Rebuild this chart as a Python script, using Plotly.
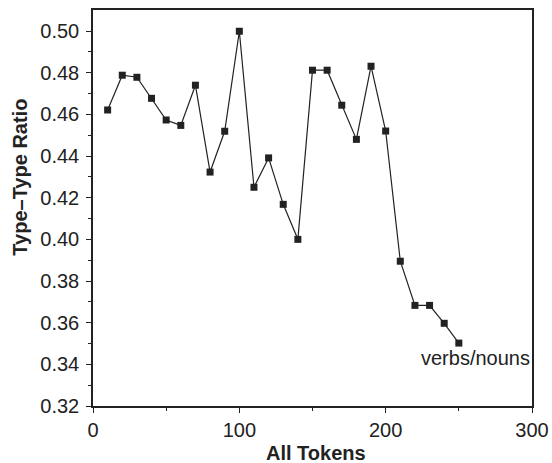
import plotly.graph_objects as go

tokens = [10, 20, 30, 40, 50, 60, 70, 80, 90, 100, 110, 120, 130, 140, 150,
          160, 170, 180, 190, 200, 210, 220, 230, 240, 250]
ratio = [0.4621, 0.4788, 0.4778, 0.4677, 0.4573, 0.4547, 0.4740, 0.4323, 0.4519,
         0.4999, 0.4250, 0.4391, 0.4168, 0.4000, 0.4812, 0.4812, 0.4644, 0.4480,
         0.4831, 0.4520, 0.3895, 0.3683, 0.3683, 0.3597, 0.3502]
series_label = "verbs/nouns"
x_title = "All Tokens"
y_title = "Type–Type Ratio"
x_ticks = [0, 100, 200, 300]
x_minor = [50, 150, 250]
y_ticks = [0.32, 0.34, 0.36, 0.38, 0.40, 0.42, 0.44, 0.46, 0.48, 0.50]
y_minor = [0.33, 0.35, 0.37, 0.39, 0.41, 0.43, 0.45, 0.47, 0.49]

font = "Liberation Sans, Arial, Helvetica, sans-serif"
ink = "#222222"
fs = 20

fig = go.Figure()
fig.add_trace(go.Scatter(
    x=tokens, y=ratio, mode="lines+markers",
    line=dict(color=ink, width=1.2),
    marker=dict(symbol="square", size=7, color=ink),
    showlegend=False,
))
fig.add_annotation(x=300, y=0.343, xref="x", yref="y", text=series_label,
                   showarrow=False, xanchor="right", yanchor="middle",
                   font=dict(family=font, size=fs, color=ink))
fig.add_annotation(x=0.508, y=-0.119, xref="paper", yref="paper",
                   text="<b>" + x_title + "</b>", showarrow=False,
                   xanchor="center", yanchor="middle",
                   font=dict(family=font, size=fs, color=ink))
fig.add_annotation(x=-0.165, y=0.578, xref="paper", yref="paper",
                   text="<b>" + y_title + "</b>", showarrow=False, textangle=-90,
                   xanchor="center", yanchor="middle",
                   font=dict(family=font, size=fs, color=ink))

fig.update_layout(
    width=552, height=463,
    margin=dict(l=93, r=20, t=10, b=57),
    paper_bgcolor="white", plot_bgcolor="white",
    font=dict(family=font, size=fs, color=ink),
    xaxis=dict(
        range=[0, 300], tickvals=x_ticks, ticktext=[str(v) for v in x_ticks],
        automargin=False,
        showgrid=False, zeroline=False, showline=True, linecolor=ink, linewidth=1.5,
        mirror=True, ticks="outside", ticklen=5, tickwidth=1.2, tickcolor=ink,
        minor=dict(tickvals=x_minor, ticks="outside", ticklen=3, tickcolor=ink, tickwidth=1),
        tickfont=dict(family=font, size=fs, color=ink),
    ),
    yaxis=dict(
        range=[0.32, 0.5101], tickvals=y_ticks, ticktext=[f"{v:.2f}" for v in y_ticks],
        automargin=False,
        showgrid=False, zeroline=False, showline=True, linecolor=ink, linewidth=1.5,
        mirror=True, ticks="outside", ticklen=5, tickwidth=1.2, tickcolor=ink,
        minor=dict(tickvals=y_minor, ticks="outside", ticklen=3, tickcolor=ink, tickwidth=1),
        tickfont=dict(family=font, size=fs, color=ink),
        ticklabelstandoff=3,
    ),
)

# remove the default page margin so the figure fills the window exactly
post = ("document.body.style.margin='0';"
        "document.documentElement.style.overflow='hidden';"
        "document.body.style.overflow='hidden';")
fig.write_html("out.html", post_script=post, config={"displayModeBar": False})
